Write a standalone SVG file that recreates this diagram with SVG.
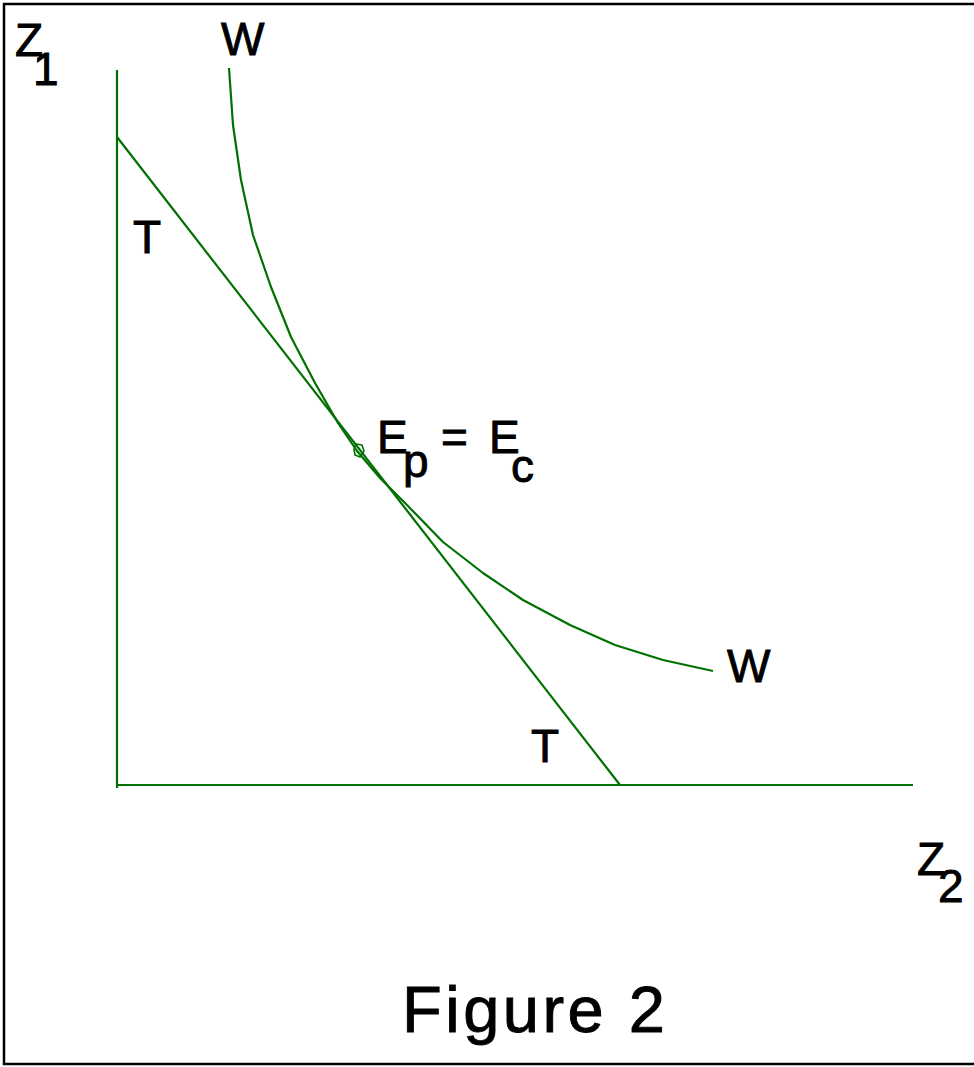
<svg xmlns="http://www.w3.org/2000/svg" width="974" height="1067" viewBox="0 0 974 1067">
<style>
.ln{fill:none;stroke:#007000;stroke-width:2.2;stroke-linejoin:round}
.t{font-family:"Liberation Sans",Arial,sans-serif;font-size:46px;fill:#000;stroke:#000;stroke-width:0.9}
.big{font-family:"Liberation Sans",Arial,sans-serif;font-size:65px;fill:#000;stroke:#000;stroke-width:0.9;letter-spacing:3.5px}
.fr{fill:none;stroke:#000;stroke-width:2.5}
</style>
<rect width="974" height="1067" fill="#fff"/>
<g id="frame">
<polyline class="fr" points="974,4 4,4 4,1064 974,1064"/>
</g>
<g id="connectors">
<line id="axis-z1" class="ln" x1="117" y1="70" x2="117" y2="788"/>
<line id="axis-z2" class="ln" x1="116" y1="785" x2="913" y2="785"/>
<line id="line-T" class="ln" x1="117" y1="137" x2="620" y2="785"/>
<polyline id="curve-W" class="ln" points="229,68 233,125 241,180 253,235 271,287 291,337 315,383 338,423 357,451 380,478 407,505 443,542 483,573 523,600 570,625 615,645 663,660 713,671"/>
</g>
<g id="point-E">
<polygon class="ln" style="stroke-width:1.6" points="356,444 362,445 364,451 360,457 355,455 354,449"/>
</g>
<g id="labels">
<text class="t" x="15" y="56">Z</text>
<text class="t" x="33" y="85">1</text>
<text class="t" x="221" y="55">W</text>
<text class="t" x="133" y="253">T</text>
<text class="t" x="377" y="453">E</text>
<text class="t" x="403" y="477">p</text>
<text class="t" x="441" y="453">=</text>
<text class="t" x="489" y="453">E</text>
<text class="t" x="511" y="482">c</text>
<text class="t" x="727" y="682">W</text>
<text class="t" x="531" y="762">T</text>
<text class="t" x="917" y="875">Z</text>
<text class="t" x="938" y="902">2</text>
<text class="big" x="402" y="1032">Figure 2</text>
</g>
</svg>
